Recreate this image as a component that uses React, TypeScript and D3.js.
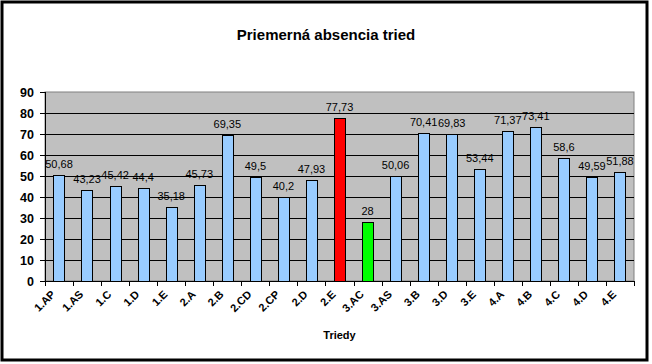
import React from "react";
import * as d3 from "d3";

const categories = [
  "1.AP", "1.AS", "1.C", "1.D", "1.E", "2.A", "2.B", "2.CD", "2.CP", "2.D", "2.E",
  "3.AC", "3.AS", "3.B", "3.D", "3.E", "4.A", "4.B", "4.C", "4.D", "4.E",
];
const values = [
  50.68, 43.23, 45.42, 44.4, 35.18, 45.73, 69.35, 49.5, 40.2, 47.93, 77.73,
  28, 50.06, 70.41, 69.83, 53.44, 71.37, 73.41, 58.6, 49.59, 51.88,
];
const yTicks = [0, 10, 20, 30, 40, 50, 60, 70, 80, 90];

const title = "Priemerná absencia tried";
const xTitle = "Triedy";

const width = 652;
const height = 364;
const plot = { left: 45, right: 634, top: 92, bottom: 281 };
const font = "Arial, 'Liberation Sans', sans-serif";

export default function App() {
  const x = d3
    .scaleBand<string>()
    .domain(categories)
    .range([plot.left, plot.right])
    .paddingInner(0.6)
    .paddingOuter(0.3);
  const step = x.step();
  const y = d3.scaleLinear().domain([0, 90]).range([plot.bottom, plot.top]);

  const maxV = d3.max(values)!;
  const minV = d3.min(values)!;
  const barColor = (v: number) =>
    v === maxV ? "#FF0000" : v === minV ? "#00FF00" : "#99CCFF";

  // band edges for x ticks
  const edges = categories.map((_, i) => plot.left + i * step).concat([plot.right]);

  return (
    <svg
      width={width}
      height={height}
      style={{ position: "absolute", left: 0, top: 0, background: "#fff" }}
      fontFamily={font}
    >
      <rect x={0} y={0} width={width} height={height} fill="#fff" />
      <rect x={2} y={2} width={645} height={358} fill="none" stroke="#000" strokeWidth={3} />

      <text x={326} y={40} textAnchor="middle" fontSize={15} fontWeight="bold">
        {title}
      </text>

      {/* plot area */}
      <rect
        x={plot.left}
        y={plot.top}
        width={plot.right - plot.left}
        height={plot.bottom - plot.top}
        fill="#C0C0C0"
        stroke="#808080"
        strokeWidth={1}
      />

      {/* gridlines */}
      {yTicks.slice(1, -1).map((t) => (
        <line
          key={t}
          x1={plot.left}
          x2={plot.right}
          y1={Math.round(y(t)) + 0.5}
          y2={Math.round(y(t)) + 0.5}
          stroke="#000"
        />
      ))}

      {/* bars */}
      {values.map((v, i) => {
        const bx = Math.round(x(categories[i])!) + 0.5;
        const by = Math.round(y(v)) + 0.5;
        return (
          <rect
            key={categories[i]}
            x={bx}
            y={by}
            width={Math.round(x.bandwidth())}
            height={Math.round(plot.bottom) - by + 0.5}
            fill={barColor(v)}
            stroke="#000"
            strokeWidth={1}
          />
        );
      })}

      {/* data labels */}
      {values.map((v, i) => (
        <text
          key={"l" + categories[i]}
          x={x(categories[i])! + x.bandwidth() / 2}
          y={y(v) - 7}
          textAnchor="middle"
          fontSize={11}
          fill="#000"
        >
          {String(v).replace(".", ",")}
        </text>
      ))}

      {/* y axis */}
      <line x1={plot.left + 0.5} x2={plot.left + 0.5} y1={plot.top} y2={plot.bottom} stroke="#000" />
      {yTicks.map((t) => (
        <g key={"y" + t}>
          <line
            x1={plot.left - 5}
            x2={plot.left}
            y1={Math.round(y(t)) + 0.5}
            y2={Math.round(y(t)) + 0.5}
            stroke="#000"
          />
          <text
            x={plot.left - 11}
            y={y(t) + 4.5}
            textAnchor="end"
            fontSize={12.5}
            fontWeight="bold"
          >
            {t}
          </text>
        </g>
      ))}

      {/* x axis */}
      <line x1={plot.left} x2={plot.right} y1={plot.bottom + 0.5} y2={plot.bottom + 0.5} stroke="#000" />
      {edges.map((e, i) => (
        <line
          key={"t" + i}
          x1={Math.round(e) + 0.5}
          x2={Math.round(e) + 0.5}
          y1={plot.bottom}
          y2={plot.bottom + 5}
          stroke="#000"
        />
      ))}
      {categories.map((c) => {
        const cx = x(c)! + x.bandwidth() / 2 - 3;
        const cy = plot.bottom + 14;
        return (
          <text
            key={"x" + c}
            x={cx}
            y={cy}
            textAnchor="end"
            fontSize={11}
            fontWeight="bold"
            transform={`rotate(-45, ${cx}, ${cy})`}
          >
            {c}
          </text>
        );
      })}

      <text x={(plot.left + plot.right) / 2} y={339} textAnchor="middle" fontSize={11} fontWeight="bold">
        {xTitle}
      </text>
    </svg>
  );
}
